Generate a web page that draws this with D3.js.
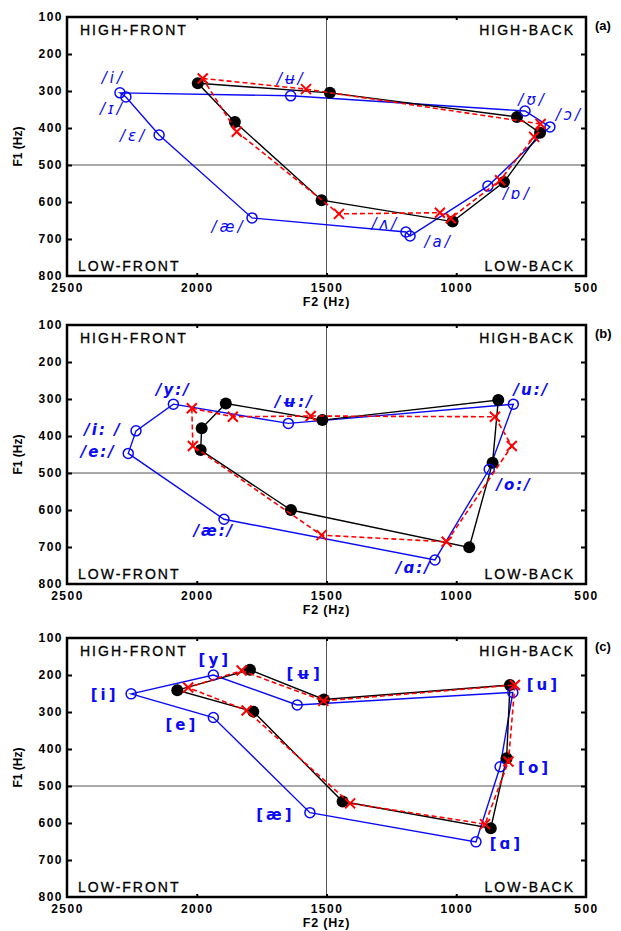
<!DOCTYPE html>
<html>
<head>
<meta charset="utf-8">
<script src="https://cdn.jsdelivr.net/npm/d3@7"></script>
<style>
  body { margin: 0; background: #fff; }
  svg { display: block; }
</style>
</head>
<body>
<svg id="chart" width="621" height="931"></svg>
<script>
// panel (a): blue = open circles, black = filled dots, red = dashed crosses
const vowelsA = ["/i/", "/ʉ/", "/ʊ/", "/ɔ/", "/ɒ/", "/a/", "/ʌ/", "/æ/", "/ɛ/", "/ɪ/"];
const blueF2A = [2296, 1638, 735, 639, 878, 1178, 1194, 1787, 2145, 2273];
const blueF1A = [305, 313, 354, 397, 557, 692, 681, 643, 419, 316];
const blackF2A = [1996, 1487, 766, 677, 816, 1014, 1519, 1853];
const blackF1A = [279, 305, 370, 413, 546, 653, 595, 384];
const redF2A = [1977, 1579, 675, 700, 831, 1021, 1063, 1452, 1846];
const redF1A = [266, 295, 389, 424, 541, 644, 629, 632, 410];

// panel (b)
const vowelsB = ["/y:/", "/ʉ:/", "/u:/", "/o:/", "/ɑ:/", "/æ:/", "/e:/", "/i: /"];
const blueF2B = [2090, 1647, 780, 873, 1082, 1895, 2264, 2234];
const blueF1B = [314, 366, 314, 490, 735, 625, 447, 386];
const blackF2B = [1888, 1516, 838, 860, 950, 1637, 1985, 1981];
const blackF1B = [312, 357, 303, 472, 701, 600, 438, 379];
const redF2B = [2019, 1861, 1561, 851, 786, 1037, 1519, 2015];
const redF1B = [325, 348, 346, 348, 427, 686, 668, 427];

// panel (c)
const vowelsC = ["[i]", "[y]", "[ʉ]", "[u]", "[o]", "[ɑ]", "[æ]", "[e]"];
const blueF2C = [2253, 1936, 1613, 782, 831, 924, 1564, 1936];
const blueF1C = [251, 200, 281, 247, 448, 651, 572, 315];
const blackF2C = [1795, 1510, 793, 806, 867, 1438, 1782, 2075];
const blackF1C = [186, 266, 227, 425, 614, 542, 299, 241];
const redF2C = [1827, 1512, 774, 799, 889, 1409, 1808, 2033];
const redF1C = [188, 270, 227, 434, 603, 547, 296, 234];

const f2Ticks = [2500, 2000, 1500, 1000, 500];
const f1Ticks = [100, 200, 300, 400, 500, 600, 700, 800];
const cornerLabels = ["HIGH-FRONT", "HIGH-BACK", "LOW-FRONT", "LOW-BACK"];

// label offsets in pixels from each blue point (layout only)
const labelShiftA = [[-8, -15], [-1, -17], [6, -11], [18, -12], [28, 8], [27, 6], [-22, -8], [-25, 9], [-27, 1], [-15, 12]];
const labelShiftB = [[-1, -14], [5, -21], [17, -14], [24, 16], [-22, 8], [-11, 12], [-31, -1], [-34, -1]];
const labelShiftC = [[-28, 1], [0, -15], [6, -31], [29, -7], [33, 1], [29, 2], [-36, 2], [-33, 7]];

const panels = [
  { tag: "(a)", top: 17, vowels: vowelsA, blue: [blueF2A, blueF1A], black: [blackF2A, blackF1A], red: [redF2A, redF1A], shift: labelShiftA, ipaStyle: "italic", ipaWeight: "normal", ipaSpacing: 3 },
  { tag: "(b)", top: 325, vowels: vowelsB, blue: [blueF2B, blueF1B], black: [blackF2B, blackF1B], red: [redF2B, redF1B], shift: labelShiftB, ipaStyle: "italic", ipaWeight: "bold", ipaSpacing: 2 },
  { tag: "(c)", top: 638, vowels: vowelsC, blue: [blueF2C, blueF1C], black: [blackF2C, blackF1C], red: [redF2C, redF1C], shift: labelShiftC, ipaStyle: "normal", ipaWeight: "bold", ipaSpacing: 3 },
];

const margin = { left: 67, right: 35 };
const plotW = 621 - margin.left - margin.right;
const plotH = 259;
const BLUE = "#0a0af5";
const RED = "#ff0000";
const FONT = "'Liberation Sans', Arial, sans-serif";

const svg = d3.select("#chart");
const zip = ([a, b]) => a.map((v, i) => [v, b[i]]);

panels.forEach((p) => {
  const x = d3.scaleLinear().domain([2500, 500]).range([0, plotW]);
  const y = d3.scaleLinear().domain([100, 800]).range([0, plotH]);

  const g = svg.append("g").attr("transform", `translate(${margin.left},${p.top})`);

  // centre cross lines
  g.append("line")
    .attr("x1", x(1500)).attr("x2", x(1500)).attr("y1", 0).attr("y2", plotH)
    .attr("stroke", "#555").attr("stroke-width", 1);
  g.append("line")
    .attr("x1", 0).attr("x2", plotW).attr("y1", y(500)).attr("y2", y(500))
    .attr("stroke", "#555").attr("stroke-width", 1);

  // inward ticks
  const innerY = f1Ticks.slice(1, -1);
  const innerX = f2Ticks.slice(1, -1);
  g.append("g").call(d3.axisRight(y).tickValues(innerY).tickSize(5).tickFormat(""))
    .call((a) => a.select(".domain").remove());
  g.append("g").attr("transform", `translate(${plotW},0)`)
    .call(d3.axisLeft(y).tickValues(innerY).tickSize(5).tickFormat(""))
    .call((a) => a.select(".domain").remove());
  g.append("g").call(d3.axisBottom(x).tickValues(innerX).tickSize(3).tickFormat(""))
    .call((a) => a.select(".domain").remove());
  g.append("g").attr("transform", `translate(0,${plotH})`)
    .call(d3.axisTop(x).tickValues(innerX).tickSize(3).tickFormat(""))
    .call((a) => a.select(".domain").remove());
  g.selectAll(".tick line").attr("stroke", "#000").attr("stroke-width", 2);

  // tick labels
  g.append("g").attr("transform", `translate(0,${plotH})`)
    .call(d3.axisBottom(x).tickValues(f2Ticks).tickSize(0).tickPadding(7).tickFormat(d3.format("d")))
    .call((a) => a.select(".domain").remove())
    .selectAll("text").attr("font-family", FONT).attr("font-weight", "bold").attr("font-size", 12)
    .attr("letter-spacing", 1.5).attr("fill", "#000");
  g.append("g")
    .call(d3.axisLeft(y).tickValues(f1Ticks).tickSize(0).tickPadding(4).tickFormat(d3.format("d")))
    .call((a) => a.select(".domain").remove())
    .selectAll("text").attr("font-family", FONT).attr("font-weight", "bold").attr("font-size", 12)
    .attr("letter-spacing", 1.5).attr("fill", "#000");

  g.append("text").attr("x", x(1500)).attr("y", plotH + 30)
    .attr("text-anchor", "middle").attr("font-family", FONT).attr("font-weight", "bold").attr("font-size", 12.5)
    .attr("letter-spacing", 0.8).text("F2 (Hz)");
  g.append("text").attr("transform", `translate(-45,${plotH / 2}) rotate(-90)`)
    .attr("text-anchor", "middle").attr("font-family", FONT).attr("font-weight", "bold").attr("font-size", 12)
    .text("F1 (Hz)");
  g.append("text").attr("x", plotW + 9).attr("y", 13)
    .attr("font-family", FONT).attr("font-weight", "bold").attr("font-size", 13)
    .text(p.tag);

  // corner labels
  const corner = [
    [13, 18, "start"], [plotW - 11, 18, "end"],
    [11, plotH - 5, "start"], [plotW - 11, plotH - 5, "end"],
  ];
  cornerLabels.forEach((t, i) => {
    g.append("text").attr("x", corner[i][0]).attr("y", corner[i][1])
      .attr("text-anchor", corner[i][2]).attr("font-family", FONT).attr("font-size", 14)
      .attr("letter-spacing", 2).attr("stroke", "#000").attr("stroke-width", 0.3)
      .attr("fill", "#000").text(t);
  });

  const line = d3.line().x((d) => x(d[0])).y((d) => y(d[1])).curve(d3.curveLinearClosed);
  const bluePts = zip(p.blue);
  const blackPts = zip(p.black);
  const redPts = zip(p.red);

  g.append("path").attr("d", line(bluePts)).attr("fill", "none").attr("stroke", BLUE).attr("stroke-width", 1.4);
  g.append("path").attr("d", line(blackPts)).attr("fill", "none").attr("stroke", "#000").attr("stroke-width", 1.4);

  g.selectAll(".dot").data(blackPts).join("circle")
    .attr("cx", (d) => x(d[0])).attr("cy", (d) => y(d[1])).attr("r", 6).attr("fill", "#000");

  g.selectAll(".ring").data(bluePts).join("circle")
    .attr("cx", (d) => x(d[0])).attr("cy", (d) => y(d[1])).attr("r", 5)
    .attr("fill", "none").attr("stroke", BLUE).attr("stroke-width", 1.5);

  g.append("path").attr("d", line(redPts)).attr("fill", "none").attr("stroke", RED)
    .attr("stroke-width", 1.6).attr("stroke-dasharray", "5,3");
  const s = 5;
  g.selectAll(".cross").data(redPts).join("path")
    .attr("d", (d) => {
      const cx = x(d[0]), cy = y(d[1]);
      return `M${cx - s},${cy - s}L${cx + s},${cy + s}M${cx - s},${cy + s}L${cx + s},${cy - s}`;
    })
    .attr("stroke", RED).attr("stroke-width", 2);

  // vowel labels
  g.selectAll(".ipa").data(bluePts).join("text")
    .attr("x", (d, i) => x(d[0]) + p.shift[i][0] + p.ipaSpacing / 2)
    .attr("y", (d, i) => y(d[1]) + p.shift[i][1])
    .attr("text-anchor", "middle").attr("dominant-baseline", "central")
    .attr("font-family", "'DejaVu Sans', sans-serif").attr("font-size", 15)
    .attr("font-style", p.ipaStyle).attr("font-weight", p.ipaWeight)
    .attr("letter-spacing", p.ipaSpacing).attr("fill", BLUE)
    .text((d, i) => p.vowels[i]);

  // frame
  g.append("rect").attr("width", plotW).attr("height", plotH)
    .attr("fill", "none").attr("stroke", "#000").attr("stroke-width", 2.5);
});
</script>
</body>
</html>
